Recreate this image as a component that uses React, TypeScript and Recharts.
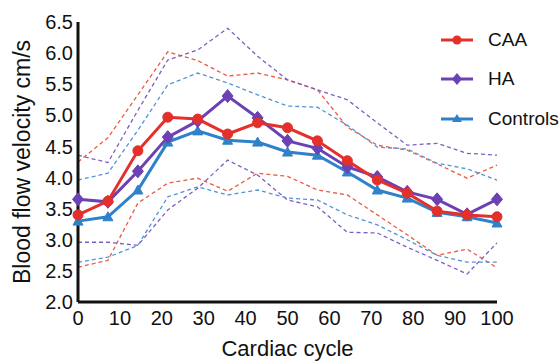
import React from 'react';
import { LineChart, Line, XAxis, YAxis, Legend } from 'recharts';

const cycle = [0, 7.14, 14.29, 21.43, 28.57, 35.71, 42.86, 50, 57.14, 64.29, 71.43, 78.57, 85.71, 92.86, 100];

const caaMean = [3.40, 3.62, 4.43, 4.97, 4.94, 4.70, 4.88, 4.80, 4.59, 4.27, 3.96, 3.75, 3.46, 3.40, 3.37];
const haMean = [3.65, 3.61, 4.10, 4.65, 4.91, 5.31, 4.96, 4.59, 4.47, 4.17, 4.01, 3.77, 3.65, 3.41, 3.65];
const ctrlMean = [3.30, 3.37, 3.80, 4.57, 4.75, 4.60, 4.57, 4.41, 4.36, 4.09, 3.80, 3.67, 3.44, 3.37, 3.27];

const caaUpper = [4.25, 4.64, 5.33, 6.02, 5.88, 5.63, 5.68, 5.57, 5.41, 4.81, 4.52, 4.44, 4.22, 3.99, 4.20];
const caaLower = [2.56, 2.67, 3.59, 3.91, 3.99, 3.78, 4.07, 4.02, 3.80, 3.72, 3.40, 3.08, 2.75, 2.85, 2.55];
const haUpper = [4.36, 4.24, 5.08, 5.89, 6.05, 6.40, 5.95, 5.57, 5.41, 5.25, 4.88, 4.52, 4.55, 4.39, 4.36];
const haLower = [2.96, 2.96, 2.91, 3.48, 3.83, 4.28, 4.04, 3.64, 3.53, 3.12, 3.11, 2.88, 2.67, 2.45, 2.95];
const ctrlUpper = [3.96, 4.07, 4.76, 5.49, 5.68, 5.52, 5.33, 5.15, 5.13, 4.84, 4.49, 4.46, 4.23, 4.14, 3.96];
const ctrlLower = [2.64, 2.72, 2.91, 3.69, 3.85, 3.72, 3.80, 3.67, 3.64, 3.40, 3.24, 3.00, 2.75, 2.64, 2.64];

const xTicks = [0, 10, 20, 30, 40, 50, 60, 70, 80, 90, 100];
const yTicks = [2.0, 2.5, 3.0, 3.5, 4.0, 4.5, 5.0, 5.5, 6.0, 6.5];
const seriesNames = ['CAA', 'HA', 'Controls'];

const data = cycle.map((c, i) => ({
  cycle: c,
  caaMean: caaMean[i],
  haMean: haMean[i],
  ctrlMean: ctrlMean[i],
  caaUpper: caaUpper[i],
  caaLower: caaLower[i],
  haUpper: haUpper[i],
  haLower: haLower[i],
  ctrlUpper: ctrlUpper[i],
  ctrlLower: ctrlLower[i],
}));

const RED = '#e4302a';
const PURPLE = '#6b41b3';
const BLUE = '#2f82c9';
const RED_D = '#ea5a44';
const PURPLE_D = '#7c5fc4';
const BLUE_D = '#5393d6';
const FONT = '"Liberation Sans", Arial, Helvetica, sans-serif';

const circleDot = (props: any) => {
  const { cx, cy, index } = props;
  if (cx == null || cy == null) return <g key={`c${index}`} />;
  return <circle key={`c${index}`} cx={cx} cy={cy} r={5} fill={RED} stroke={RED} />;
};
const diamondDot = (props: any) => {
  const { cx, cy, index } = props;
  if (cx == null || cy == null) return <g key={`d${index}`} />;
  return (
    <polygon
      key={`d${index}`}
      points={`${cx},${cy - 6.5} ${cx + 5.5},${cy} ${cx},${cy + 6.5} ${cx - 5.5},${cy}`}
      fill={PURPLE}
      stroke={PURPLE}
    />
  );
};
const triangleDot = (props: any) => {
  const { cx, cy, index } = props;
  if (cx == null || cy == null) return <g key={`t${index}`} />;
  return (
    <polygon
      key={`t${index}`}
      points={`${cx},${cy - 5} ${cx + 5},${cy + 4} ${cx - 5},${cy + 4}`}
      fill={BLUE}
      stroke={BLUE}
    />
  );
};

const legendItems = [
  { name: seriesNames[0], color: RED, shape: 'circle' },
  { name: seriesNames[1], color: PURPLE, shape: 'diamond' },
  { name: seriesNames[2], color: BLUE, shape: 'triangle' },
];

const renderLegend = () => (
  <div style={{ fontFamily: FONT, fontSize: 19, color: '#111' }}>
    {legendItems.map((it) => (
      <div key={it.name} style={{ display: 'flex', alignItems: 'center', height: 39.5 }}>
        <svg width={34} height={16} style={{ marginRight: 14 }}>
          <line x1={1} y1={8} x2={33} y2={8} stroke={it.color} strokeWidth={3} />
          {it.shape === 'circle' && <circle cx={17} cy={8} r={4.5} fill={it.color} />}
          {it.shape === 'diamond' && <polygon points="17,2 22,8 17,14 12,8" fill={it.color} />}
          {it.shape === 'triangle' && <polygon points="17,3 22,11 12,11" fill={it.color} />}
        </svg>
        <span>{it.name}</span>
      </div>
    ))}
  </div>
);

const YLabel = (props: any) => {
  const vb = props.viewBox || {};
  const cy = (vb.y ?? 22) + (vb.height ?? 280) / 2;
  return (
    <text
      x={30}
      y={cy}
      transform={`rotate(-90, 30, ${cy})`}
      textAnchor="middle"
      fontFamily={FONT}
      fontSize={23}
      fill="#111"
    >
      Blood flow velocity cm/s
    </text>
  );
};

const XLabel = (props: any) => {
  const vb = props.viewBox || {};
  const cx = (vb.x ?? 78) + (vb.width ?? 419) / 2;
  return (
    <text x={cx} y={356} textAnchor="middle" fontFamily={FONT} fontSize={22} fill="#111">
      Cardiac cycle
    </text>
  );
};

export default function App() {
  return (
    <div style={{ position: 'absolute', left: 0, top: 0, width: 560, height: 363, background: '#fff' }}>
      <LineChart
        width={560}
        height={363}
        data={data}
        margin={{ top: 22, right: 63, bottom: 21, left: 0 }}
      >
        <XAxis
          dataKey="cycle"
          type="number"
          domain={[0, 100]}
          ticks={xTicks}
          interval={0}
          height={40}
          axisLine={{ stroke: '#111', strokeWidth: 3 }}
          tickLine={false}
          tickSize={6}
          tickMargin={3}
          tick={{ fontFamily: FONT, fontSize: 20, fill: '#111' }}
          label={<XLabel />}
        />
        <YAxis
          type="number"
          domain={[2, 6.5]}
          ticks={yTicks}
          interval={0}
          width={78}
          axisLine={{ stroke: '#111', strokeWidth: 3 }}
          tickLine={false}
          tickSize={3}
          tickMargin={2}
          tickFormatter={(v: number) => v.toFixed(1)}
          tick={{ fontFamily: FONT, fontSize: 20, fill: '#111' }}
          label={<YLabel />}
        />
        <Legend
          content={renderLegend}
          layout="horizontal"
          verticalAlign="middle"
          align="center"
          wrapperStyle={{ position: 'absolute', left: 440, top: 20, width: 130 }}
        />
        <Line dataKey="caaUpper" stroke={RED_D} strokeWidth={1.3} strokeDasharray="4 3" dot={false} isAnimationActive={false} legendType="none" />
        <Line dataKey="caaLower" stroke={RED_D} strokeWidth={1.3} strokeDasharray="4 3" dot={false} isAnimationActive={false} legendType="none" />
        <Line dataKey="haUpper" stroke={PURPLE_D} strokeWidth={1.3} strokeDasharray="4 3" dot={false} isAnimationActive={false} legendType="none" />
        <Line dataKey="haLower" stroke={PURPLE_D} strokeWidth={1.3} strokeDasharray="4 3" dot={false} isAnimationActive={false} legendType="none" />
        <Line dataKey="ctrlUpper" stroke={BLUE_D} strokeWidth={1.3} strokeDasharray="4 3" dot={false} isAnimationActive={false} legendType="none" />
        <Line dataKey="ctrlLower" stroke={BLUE_D} strokeWidth={1.3} strokeDasharray="4 3" dot={false} isAnimationActive={false} legendType="none" />
        <Line dataKey="ctrlMean" name={seriesNames[2]} stroke={BLUE} strokeWidth={3} dot={triangleDot} isAnimationActive={false} />
        <Line dataKey="haMean" name={seriesNames[1]} stroke={PURPLE} strokeWidth={3} dot={diamondDot} isAnimationActive={false} />
        <Line dataKey="caaMean" name={seriesNames[0]} stroke={RED} strokeWidth={3} dot={circleDot} isAnimationActive={false} />
      </LineChart>
    </div>
  );
}
